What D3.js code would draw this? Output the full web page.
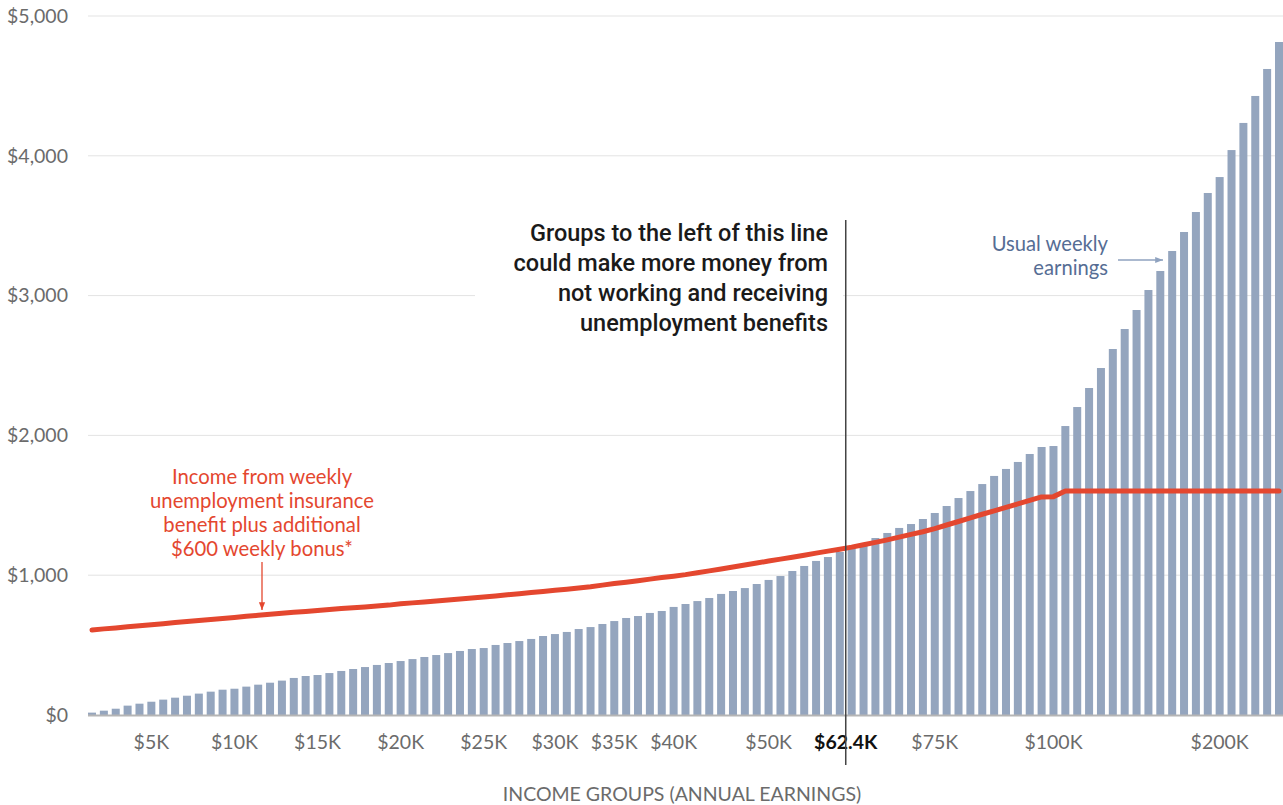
<!DOCTYPE html>
<html><head><meta charset="utf-8">
<script src="https://cdn.jsdelivr.net/npm/d3@7"></script>
<style>
html,body{margin:0;padding:0;background:#fff;}
svg{display:block;font-family:Lato,"Open Sans",sans-serif;}
</style></head>
<body><svg id="chart" width="1283" height="805"></svg>
<script>
// Usual weekly earnings per income group (percentile bars)
const weeklyEarnings = [17,31,45,67,81,95,110,124,138,153,167,181,188,203,217,231,246,
 265,279,286,300,315,329,343,358,372,386,400,415,429,443,458,472,479,
 501,515,529,544,565,579,594,615,629,651,672,694,708,730,744,773,794,
 815,837,866,887,908,937,966,994,1030,1066,1102,1130,1166,1202,1225,1266,1302,
 1338,1366,1402,1445,1495,1552,1602,1652,1710,1760,1810,1867,1917,1924,2067,2203,
 2339,2482,2618,2761,2897,3040,3176,3319,3455,3598,3734,3848,4041,4235,4428,4621,4814];
// Weekly UI benefit plus $600 bonus
const benefitPlusBonus = [608,616,623,631,638,646,653,661,668,676,683,691,698,706,713,721,728,
 735,741,748,754,761,767,773,780,786,
 795,802,809,816,823,830,837,844,
 852,860,868,876,884,892,900,909,
 918,929,940,950,961,972,983,993,1004,
 1017,1031,1045,1059,1073,1087,1101,1115,1129,1143,1158,1172,1186,
 1201,1218,1235,1253,
 1272,1292,1311,
 1333,1359,1384,1410,
 1436,1460,1485,1510,1535,1560,
 1562,1602,
 1602,1602,1602,1602,1602,1602,1602,1602,1602,1602,1602,1602,1602,1602,1602,1602,1602,1602];
const groups = d3.range(weeklyEarnings.length);
const xTickGroups = [5,12,19,26,33,39,44,49,57,71,81,95];
const xTickLabels = ["$5K","$10K","$15K","$20K","$25K","$30K","$35K","$40K","$50K","$75K","$100K","$200K"];
const thresholdAfterGroup = 63;
const thresholdLabel = "$62.4K";
const yTicks = [0,1000,2000,3000,4000,5000];

const svg = d3.select("#chart");
const x = d3.scaleBand().domain(groups).range([88,1283]).paddingInner(0.326).paddingOuter(0);
const y = d3.scaleLinear().domain([0,5000]).range([715,16]);
const FS = "19.5px";

// grid
svg.append("g").selectAll("line").data(yTicks.slice(1)).join("line")
  .attr("x1",88).attr("x2",1283).attr("y1",d=>y(d)).attr("y2",d=>y(d))
  .attr("stroke","#e3e3e3").attr("stroke-width",1);

// y labels
const yAxis = d3.axisLeft(y).tickValues(yTicks).tickSize(0).tickPadding(0)
  .tickFormat(d=>"$"+d3.format(",")(d));
const gy = svg.append("g").attr("transform","translate(68,0)").call(yAxis);
gy.select(".domain").remove();
gy.selectAll("text").attr("fill","#6b6b6b").style("font-size",FS).style("font-family","Lato");

// bars
svg.append("g").selectAll("rect").data(groups).join("rect")
  .attr("x",d=>x(d)).attr("width",x.bandwidth())
  .attr("y",d=>y(weeklyEarnings[d])).attr("height",d=>y(0)-y(weeklyEarnings[d]))
  .attr("fill","#94a5be");

// baseline
svg.append("line").attr("x1",88).attr("x2",1283).attr("y1",y(0)+0.5).attr("y2",y(0)+0.5)
  .attr("stroke","#b5b5b5").attr("stroke-width",2);

// x axis labels
const xAxis = d3.axisBottom(x).tickValues(xTickGroups).tickSize(0).tickPadding(0)
  .tickFormat(d=>xTickLabels[xTickGroups.indexOf(d)]);
const gx = svg.append("g").attr("transform","translate(0,735)").call(xAxis);
gx.select(".domain").remove();
gx.selectAll("text").attr("fill","#6b6b6b").style("font-size",FS).style("font-family","Lato");

const thrX = (x(thresholdAfterGroup)+x.bandwidth()+x(thresholdAfterGroup+1))/2;
gx.append("text").attr("x",thrX).attr("y",0).attr("dy","0.71em").attr("text-anchor","middle")
  .attr("fill","#111").style("font-size",FS).style("font-weight","700").style("font-family","Lato")
  .text(thresholdLabel);

// red line
const line = d3.line().x(d=>x(d)+x.bandwidth()/2).y(d=>y(benefitPlusBonus[d]));
svg.append("path").datum(groups).attr("d",line).attr("fill","none")
  .attr("stroke","#e4472f").attr("stroke-width",5).attr("stroke-linecap","round").attr("stroke-linejoin","round");

// annotation box + text
svg.append("rect").attr("x",475).attr("y",215).attr("width",368).attr("height",125).attr("fill","#fff");
svg.append("line").attr("x1",thrX).attr("x2",thrX).attr("y1",220).attr("y2",765)
  .attr("stroke","#444").attr("stroke-width",1.5);
const ann = ["Groups to the left of this line","could make more money from","not working and receiving","unemployment benefits"];
svg.append("g").selectAll("text").data(ann).join("text")
  .attr("x",828).attr("y",(d,i)=>241+i*30).attr("text-anchor","end")
  .attr("fill","#1a1a1a").style("font-size","23.5px").style("font-weight","500").style("font-family","Roboto")
  .text(d=>d);

// red annotation
const redAnn = ["Income from weekly","unemployment insurance","benefit plus additional","$600 weekly bonus*"];
svg.append("g").selectAll("text").data(redAnn).join("text")
  .attr("x",262).attr("y",(d,i)=>484+i*24).attr("text-anchor","middle")
  .attr("fill","#e4472f").style("font-size","20.3px").style("font-family","Lato").text(d=>d);
const defs = svg.append("defs");
defs.append("marker").attr("id","arrR").attr("viewBox","0 0 10 10").attr("refX",10).attr("refY",5)
  .attr("markerWidth",6).attr("markerHeight",6).attr("orient","auto")
  .append("path").attr("d","M0,1L10,5L0,9Z").attr("fill","#e4472f");
defs.append("marker").attr("id","arrB").attr("viewBox","0 0 10 10").attr("refX",10).attr("refY",5)
  .attr("markerWidth",6).attr("markerHeight",6).attr("orient","auto")
  .append("path").attr("d","M0,1L10,5L0,9Z").attr("fill","#8fa2bf");
svg.append("line").attr("x1",262).attr("x2",262).attr("y1",562).attr("y2",610)
  .attr("stroke","#e4472f").attr("stroke-width",1.3).attr("marker-end","url(#arrR)");

// blue annotation
const blueAnn = ["Usual weekly","earnings"];
svg.append("g").selectAll("text").data(blueAnn).join("text")
  .attr("x",1108).attr("y",(d,i)=>251+i*24).attr("text-anchor","end")
  .attr("fill","#566d94").style("font-size","20.2px").style("font-family","Lato").text(d=>d);
svg.append("line").attr("x1",1118).attr("x2",1163).attr("y1",260).attr("y2",260)
  .attr("stroke","#8fa2bf").attr("stroke-width",1.3).attr("marker-end","url(#arrB)");

// x title
svg.append("text").attr("x",682).attr("y",801).attr("text-anchor","middle")
  .attr("fill","#6b6b6b").style("font-size",FS).style("font-family","Lato")
  .text("INCOME GROUPS (ANNUAL EARNINGS)");
</script></body></html>
